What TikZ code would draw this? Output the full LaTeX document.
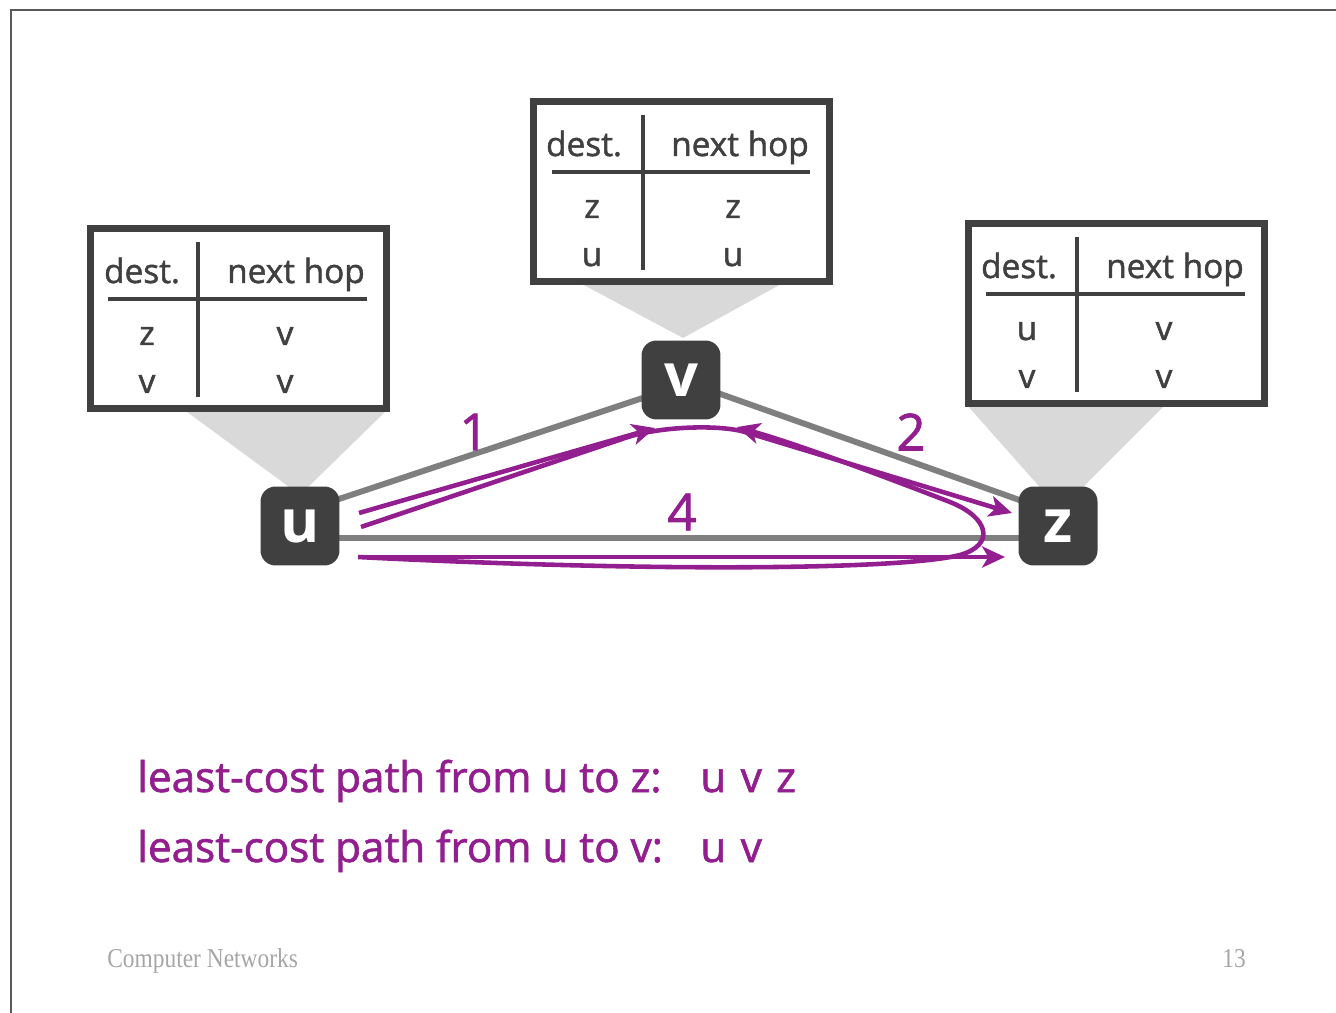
\documentclass[tikz,border=0pt]{standalone}
\usepackage{fontspec}
\setmainfont{Open Sans}
\newfontfamily\chalkfont[FakeBold=1.5]{Open Sans}
\newfontfamily\footfont[FakeStretch=0.86]{Liberation Serif}
\usetikzlibrary{arrows.meta,backgrounds}
\definecolor{nodegray}{HTML}{404040}
\definecolor{edgegray}{HTML}{7F7F7F}
\definecolor{funnelgray}{HTML}{D9D9D9}
\definecolor{pathpurple}{HTML}{931E8F}
\definecolor{footgray}{HTML}{A6A6A6}
\begin{document}
\begin{tikzpicture}[x=0.02cm,y=-0.02cm,
    router/.style={fill=nodegray,text=white,rounded corners=0.3cm,minimum size=1.58cm,inner sep=0pt,font=\fontsize{34}{34}\selectfont\bfseries},
    link/.style={draw=edgegray,line width=3.4pt},
    funnel/.style={fill=funnelgray},
    tabframe/.style={draw=nodegray,line width=4pt,fill=white},
    tabrule/.style={draw=nodegray,line width=2pt},
    tabtext/.style={text=nodegray,font=\chalkfont\fontsize{19}{19}\selectfont,inner sep=0pt,anchor=base},
    cost/.style={text=pathpurple,font=\chalkfont\fontsize{29}{29}\selectfont,inner sep=0pt},
    route/.style={draw=pathpurple,line width=2.6pt,-{Stealth[length=13pt,width=12pt,inset=3.5pt]}},
    caption/.style={text=pathpurple,font=\chalkfont\fontsize{24}{24}\selectfont,anchor=base west,inner sep=0pt}]
    \useasboundingbox (0,0) rectangle (1336,1013);
    \draw [gray!70!black,line width=1pt] (1336,10)--(11,10)--(11,1013);
    % routers
    \node [router] (u) at (300,526) {u};
    \node [router] (v) at (681,380) {v};
    \node [router] (z) at (1058,526) {z};
    \begin{pgfonlayer}{background}
        \fill [funnel] (183,409)--(388,409)--(300,495)--cycle;
        \fill [funnel] (580,283)--(783,283)--(683,338)--cycle;
        \fill [funnel] (967,405)--(1165,405)--(1060,510)--cycle;
        \draw [link] ([yshift=8pt]u.center)--([yshift=-3pt]v.center);
        \draw [link] (v.center)--([yshift=7pt]z.center);
        \draw [link] ([yshift=-7pt]u.center)--([yshift=-7pt]z.center);
    \end{pgfonlayer}
    % table of u
    \begin{scope}[shift={(87,225)}]
        \draw [tabframe] (3.5,3.5) rectangle (299.5,183.5);
        \draw [tabrule] (111,17)--(111,172);
        \draw [tabrule] (21,74)--(280,74);
        \node [tabtext] (u-dest) at (55,58) {dest.};
        \node [tabtext] (u-hop) at (209,58) {next hop};
        \node [tabtext] (u-d1) at (60,120) {z};
        \node [tabtext] (u-d2) at (60,168) {v};
        \node [tabtext] (u-h1) at (198,120) {v};
        \node [tabtext] (u-h2) at (198,168) {v};
    \end{scope}
    % table of v
    \begin{scope}[shift={(530,98)}]
        \draw [tabframe] (3.5,3.5) rectangle (299.5,183.5);
        \draw [tabrule] (113,17)--(113,172);
        \draw [tabrule] (22,74)--(280,74);
        \node [tabtext] (v-dest) at (54,58) {dest.};
        \node [tabtext] (v-hop) at (210,58) {next hop};
        \node [tabtext] (v-d1) at (62,120) {z};
        \node [tabtext] (v-d2) at (62,168) {u};
        \node [tabtext] (v-h1) at (203,120) {z};
        \node [tabtext] (v-h2) at (203,168) {u};
    \end{scope}
    % table of z
    \begin{scope}[shift={(965,220)}]
        \draw [tabframe] (3.5,3.5) rectangle (299.5,183.5);
        \draw [tabrule] (112,17)--(112,172);
        \draw [tabrule] (21,74)--(280,74);
        \node [tabtext] (z-dest) at (54,58) {dest.};
        \node [tabtext] (z-hop) at (210,58) {next hop};
        \node [tabtext] (z-d1) at (62,120) {u};
        \node [tabtext] (z-d2) at (62,168) {v};
        \node [tabtext] (z-h1) at (199,120) {v};
        \node [tabtext] (z-h2) at (199,168) {v};
    \end{scope}
    % link costs
    \node [cost] (c-uv) at (474,432) {1};
    \node [cost] (c-vz) at (911,432) {2};
    \node [cost] (c-uz) at (682,512) {4};
    % paths
    \coordinate (a-start) at (359,513);
    \coordinate (a-end) at (655,428);
    \coordinate (b-start) at (361,527);
    \coordinate (b-end) at (1012,513);
    \coordinate (c-start) at (358,557);
    \coordinate (c-end) at (737,427);
    \coordinate (d-end) at (1005,557);
    \draw [route] (a-start)--(a-end);
    \draw [route] (b-start)--(625,438) .. controls (660,426) and (720,424.5) .. (745,432)--(b-end);
    \draw [route] (c-start) .. controls (650,572) and (900,570) .. (960,555) .. controls (995,545) and (990,518) .. (950,502) .. controls (880,475) and (800,445) .. (c-end);
    \draw [route] (c-start)--(d-end);
    % least-cost paths
    \node [caption] (l1) at (137,792) {least-cost path from u to z:};
    \node [caption] (r1) at (700,792) {u\hspace{2pt} v\hspace{2pt} z};
    \node [caption] (l2) at (137,862) {least-cost path from u to v:};
    \node [caption] (r2) at (700,862) {u\hspace{2pt} v};
    % footer
    \node [text=footgray,font=\footfont\fontsize{15.5}{15.5}\selectfont,anchor=base west,inner sep=0pt] (foot) at (107,967) {Computer Networks};
    \node [text=footgray,font=\footfont\fontsize{15.5}{15.5}\selectfont,anchor=base,inner sep=0pt] (page) at (1234,967) {13};
\end{tikzpicture}
\end{document}
